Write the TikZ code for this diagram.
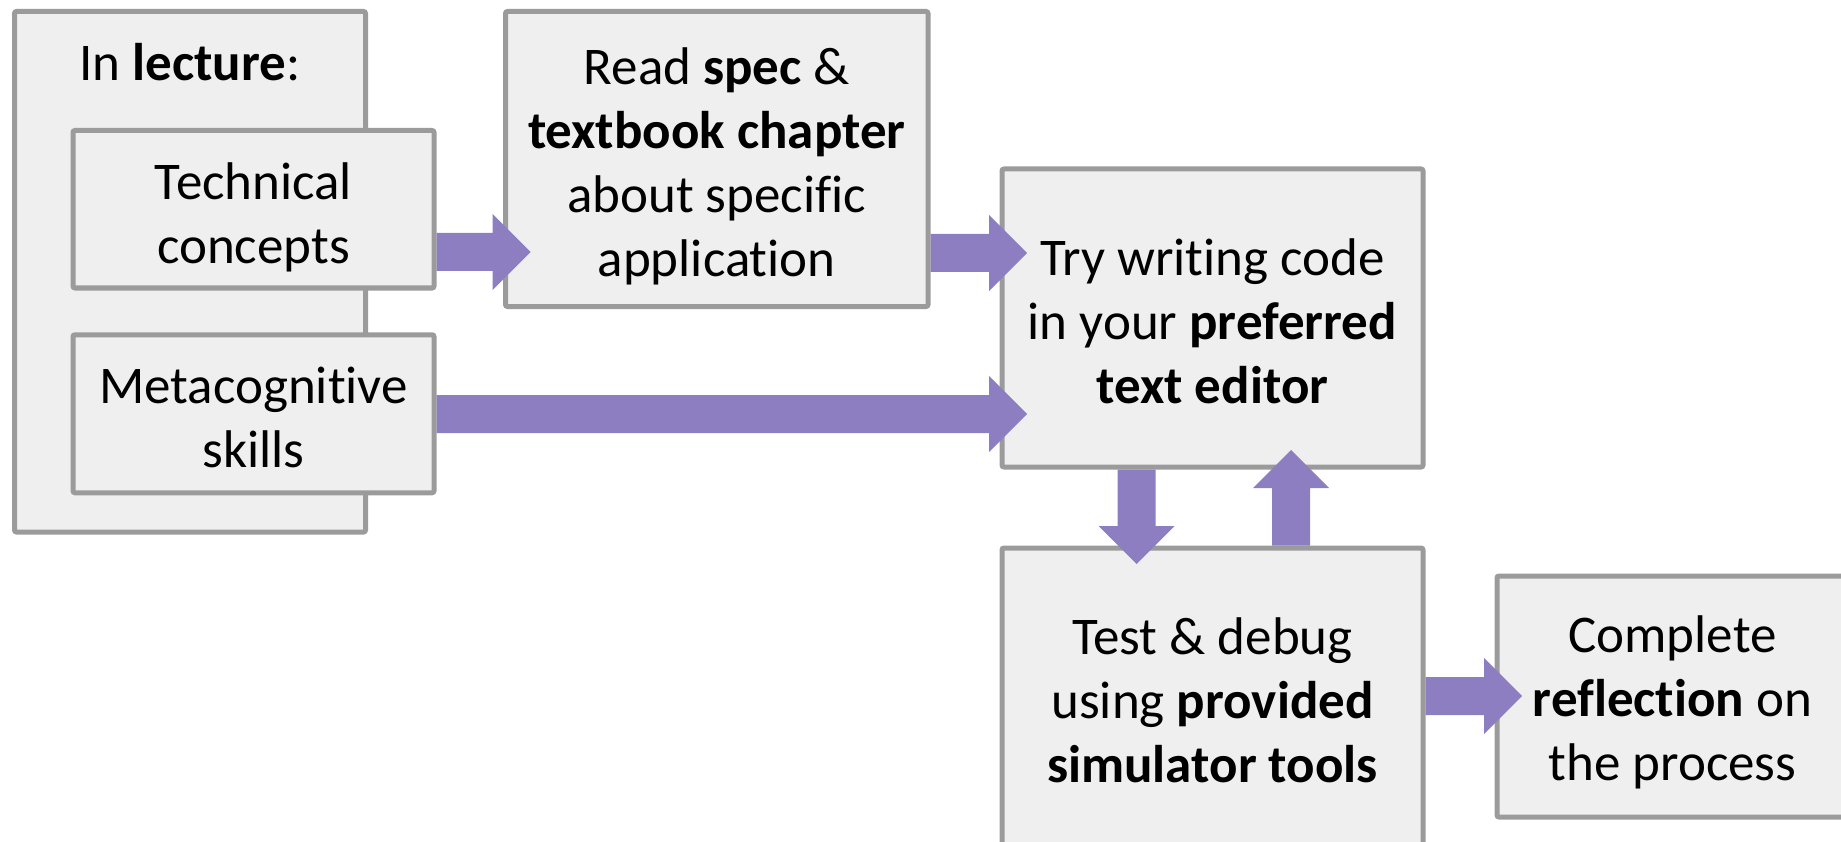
\documentclass[tikz,border=0pt]{standalone}
\usepackage{fontspec}
\setmainfont{Carlito}[Ligatures=NoCommon]
\usetikzlibrary{calc}
\definecolor{boxline}{RGB}{155,155,155}
\definecolor{boxfill}{RGB}{239,239,239}
\definecolor{arrowpurple}{RGB}{141,126,193}
\newcommand{\blkright}[2]{\fill[arrowpurple] let \p1=(#1), \p2=(#2) in
  (\x1,\y1+19pt) -- (\x2-38pt,\y1+19pt) -- (\x2-38pt,\y1+38pt) -- (\x2,\y1)
  -- (\x2-38pt,\y1-38pt) -- (\x2-38pt,\y1-19pt) -- (\x1,\y1-19pt) -- cycle;}
\newcommand{\blkdown}[2]{\fill[arrowpurple] let \p1=(#1), \p2=(#2) in
  (\x1-19pt,\y1) -- (\x1-19pt,\y2+38pt) -- (\x1-38pt,\y2+38pt) -- (\x1,\y2)
  -- (\x1+38pt,\y2+38pt) -- (\x1+19pt,\y2+38pt) -- (\x1+19pt,\y1) -- cycle;}
\newcommand{\blkup}[2]{\fill[arrowpurple] let \p1=(#1), \p2=(#2) in
  (\x1-19pt,\y1) -- (\x1-19pt,\y2-38pt) -- (\x1-38pt,\y2-38pt) -- (\x1,\y2)
  -- (\x1+38pt,\y2-38pt) -- (\x1+19pt,\y2-38pt) -- (\x1+19pt,\y1) -- cycle;}
\begin{document}
\begin{tikzpicture}[x=1pt,y=-1pt,
  box/.style={draw=boxline, fill=boxfill, line width=5pt, rounded corners=2pt,
    inner sep=0pt, outer sep=0pt},
  txt/.style={inner sep=0pt, align=center, text=black,
    font=\fontsize{53}{64}\selectfont}]
\path[use as bounding box, clip] (0,0) rectangle (1841,842);
% boxes
\node[box, minimum width=351pt, minimum height=520.5pt] (lecture) at (190,271.75) {};
\node[txt, anchor=base] (lecturetitle) at (190,81) {In \textbf{lecture}:};
\node[box, minimum width=361pt, minimum height=157.5pt,
  label={[txt, yshift=-8pt]center:{Technical\\concepts}}] (tech) at (253.5,209.25) {};
\node[box, minimum width=361pt, minimum height=158pt,
  label={[txt, yshift=-3.5pt]center:{Metacognitive\\skills}}] (meta) at (253.5,413.75) {};
\node[box, minimum width=422.5pt, minimum height=295pt,
  label={[txt, yshift=-7pt]center:{Read \textbf{spec} \&\\\textbf{textbook chapter}\\about specific\\application}}] (read) at (716.75,159) {};
\node[box, minimum width=421pt, minimum height=298pt,
  label={[txt, yshift=-3pt]center:{Try writing code\\in your \textbf{preferred}\\\textbf{text editor}}}] (try) at (1212.5,318) {};
\node[box, minimum width=421pt, minimum height=304pt,
  label={[txt]center:{Test \& debug\\using \textbf{provided}\\\textbf{simulator tools}}}] (test) at (1212.5,700) {};
\node[box, minimum width=353pt, minimum height=241pt,
  label={[txt, yshift=-6pt, xshift=-1pt]center:{Complete\\\textbf{reflection} on\\the process}}] (complete) at (1673.5,696.5) {};
% reference lines for connectors
\coordinate (r1) at (0,252);
\coordinate (r2) at (0,253);
\coordinate (r3) at (0,414);
\coordinate (r6) at (0,696);
\coordinate (d1) at (1136.5,0);
\coordinate (u1) at (1291,0);
% connectors
\blkright{$(tech.east |- r1)+(2.5,0)$}{$(read.west |- r1)+(25,0)$}
\blkright{$(read.east |- r2)+(2.5,0)$}{$(try.west |- r2)+(25,0)$}
\blkright{$(meta.east |- r3)+(2.5,0)$}{$(try.west |- r3)+(25,0)$}
\blkdown{$(try.south -| d1)+(0,2.5)$}{$(test.north -| d1)+(0,16)$}
\blkup{$(test.north -| u1)+(0,-2.5)$}{$(try.south -| u1)+(0,-17)$}
\blkright{$(test.east |- r6)+(2.5,0)$}{$(complete.west |- r6)+(25,0)$}
\end{tikzpicture}
\end{document}
